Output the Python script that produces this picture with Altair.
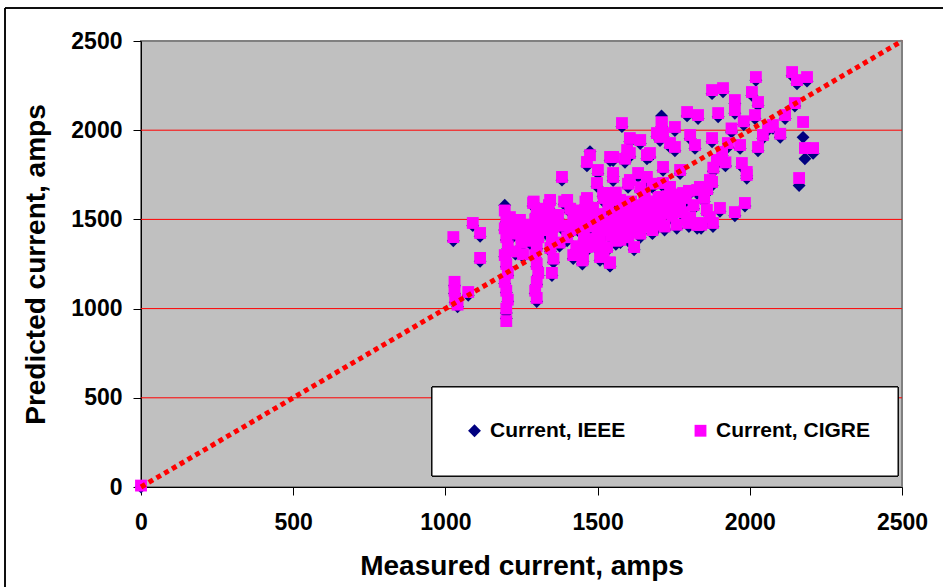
import altair as alt
import pandas as pd

# ---------------- data ----------------
measured = [
    0, 1026, 1030, 1030, 1032, 1040, 1075, 1090, 1114, 1114,
    1195, 1200, 1195, 1200, 1205, 1195, 1200, 1205, 1195, 1200,
    1205, 1200, 1200, 1220, 1240, 1250, 1230, 1260, 1212, 1245,
    1290, 1300, 1295, 1300, 1305, 1300, 1295, 1300, 1305, 1300,
    1295, 1300, 1288, 1340, 1350, 1355, 1350, 1345, 1355, 1350,
    1344, 1390, 1400, 1410, 1420, 1440, 1400, 1430, 1420, 1450,
    1460, 1383, 1480, 1500, 1520, 1540, 1560, 1490, 1510, 1465,
    1518, 1475, 1465, 1541, 1597, 1606, 1640, 1672, 1715, 1738,
    1551, 1606, 1662, 1715, 1498, 1465, 1531, 1606, 1662, 1715,
    1748, 1541, 1450, 1480, 1520, 1550, 1580, 1600, 1620, 1640,
    1660, 1680, 1700, 1720, 1580, 1620, 1560, 1500, 1650, 1700,
    1740, 1760, 1800, 1460, 1520, 1560, 1600, 1640, 1680, 1575,
    1600, 1640, 1680, 1720, 1760, 1800, 1840, 1620,
    2020, 2139, 2188, 2155, 1876, 1912, 2007, 2027, 1951, 1794,
    1830, 1896, 1951, 1711, 2148, 2175, 2116, 2076, 2017, 2181,
    2208, 2162, 2043, 2060, 2027, 1974, 1990, 1984, 1951, 1902,
    1869, 1830, 1794, 1876, 1928, 1968, 1909, 1892, 1804, 1820,
    1754, 1754, 1705, 1869, 1836, 1738, 1781, 1738, 1695, 1580,
    1590, 1695, 1551, 1606, 1662, 1501, 1551, 1633, 1715, 1771,
    1990, 1876, 1465, 1531, 1574, 1705, 1771, 1827, 1485, 1551,
    1639, 1705, 1771, 1804, 1859, 1827, 1879, 1606, 1508, 1508,
    1452, 1710,
    1370, 1385, 1410, 1425, 1445, 1455, 1470, 1485, 1495, 1505,
    1525, 1535, 1545, 1555, 1565, 1585, 1595, 1610, 1615, 1630,
    1645, 1655, 1665, 1675, 1690, 1695, 1710, 1730, 1745, 1765,
    1780, 1790, 1815, 1850, 1860, 1880, 1920, 1940, 1980, 2100,
    1250, 1270, 1320, 1330, 1315, 1375, 1280, 1255, 1215,
]

ieee = [
    0, 1380, 1130, 1085, 1035, 1010, 1075, 1465, 1405, 1265,
    1580, 1485, 1440, 1385, 1335, 1290, 1235, 1185, 1140, 1090,
    1040, 975, 945, 1400, 1440, 1385, 1305, 1450, 1495, 1480,
    1590, 1535, 1485, 1435, 1385, 1335, 1285, 1235, 1185, 1135,
    1085, 1040, 1575, 1560, 1500, 1440, 1380, 1320, 1260, 1185,
    1590, 1585, 1590, 1540, 1480, 1430, 1380, 1330, 1280, 1250,
    1520, 1720, 1370, 1330, 1280, 1240, 1360, 1460, 1510, 1600,
    1630, 1880, 1800, 1830, 1870, 1935, 1925, 1850, 1965, 1905,
    1740, 1700, 1718, 1685, 1685, 1325, 1325, 1435, 1495, 1535,
    1590, 1238, 1430, 1480, 1460, 1500, 1530, 1540, 1500, 1560,
    1580, 1540, 1600, 1560, 1460, 1440, 1420, 1400, 1480, 1500,
    1540, 1620, 1640, 1580, 1600, 1630, 1680, 1660, 1680, 1370,
    1380, 1400, 1420, 1440, 1450, 1460, 1450, 1330,
    2280, 2305, 2275, 2260, 2205, 2215, 2195, 2138, 2150, 2080,
    2065, 2075, 2095, 2020, 2135, 1960, 2065, 2010, 2065, 1840,
    1870, 1690, 1955, 2000, 1885, 1795, 1745, 1575, 1520, 1545,
    1490, 1460, 1478, 1935, 1905, 1898, 1858, 1812, 1952, 1898,
    1998, 1885, 1942, 1700, 1662, 1662, 1628, 1516, 1492, 2020,
    1820, 1965, 1830, 1852, 1840, 1757, 1718, 1740, 1775, 1757,
    1730, 1690, 1590, 1628, 1590, 1606, 1590, 1645, 1495, 1460,
    1460, 1488, 1545, 1495, 1535, 1450, 1460, 1410, 1380, 1270,
    1265, 2080,
    1505, 1445, 1420, 1530, 1490, 1385, 1440, 1545, 1350, 1470,
    1420, 1550, 1390, 1590, 1470, 1420, 1500, 1580, 1470, 1530,
    1440, 1620, 1530, 1470, 1580, 1450, 1540, 1610, 1500, 1560,
    1520, 1600, 1560, 1600, 1650, 1770, 1800, 1990, 2030, 1960,
    1350, 1420, 1480, 1420, 1540, 1350, 1360, 1290, 1460,
]

cigre = [
    8, 1401, 1150, 1100, 1050, 1022, 1093, 1480, 1424, 1284,
    1550, 1500, 1450, 1400, 1350, 1300, 1250, 1200, 1150, 1100,
    1050, 1000, 930, 1420, 1460, 1400, 1320, 1470, 1513, 1497,
    1600, 1550, 1500, 1450, 1400, 1350, 1300, 1250, 1200, 1150,
    1100, 1060, 1592, 1580, 1520, 1460, 1400, 1340, 1280, 1200,
    1609, 1600, 1609, 1560, 1500, 1450, 1400, 1350, 1300, 1270,
    1540, 1738, 1390, 1350, 1300, 1260, 1380, 1480, 1530, 1620,
    1648, 1860, 1822, 1850, 1889, 1956, 1945, 1872, 1984, 1928,
    1760, 1721, 1738, 1704, 1704, 1345, 1345, 1457, 1513, 1553,
    1609, 1256, 1450, 1500, 1480, 1520, 1550, 1560, 1520, 1580,
    1600, 1560, 1620, 1580, 1480, 1460, 1440, 1420, 1500, 1520,
    1560, 1640, 1660, 1600, 1620, 1650, 1700, 1680, 1700, 1385,
    1400, 1420, 1440, 1460, 1470, 1480, 1470, 1345,
    2298, 2326, 2298, 2281, 2225, 2236, 2214, 2158, 2169, 2102,
    2085, 2096, 2113, 2040, 2152, 2046, 2085, 2029, 2085, 1900,
    1900, 1732, 1973, 2018, 1906, 1816, 1766, 1592, 1541, 1564,
    1513, 1480, 1497, 1956, 1928, 1917, 1878, 1833, 1973, 1917,
    2018, 1906, 1962, 1721, 1682, 1682, 1648, 1536, 1513, 2040,
    1840, 1984, 1850, 1872, 1861, 1777, 1738, 1760, 1794, 1777,
    1749, 1710, 1609, 1648, 1609, 1626, 1609, 1665, 1513, 1480,
    1480, 1508, 1564, 1513, 1553, 1469, 1480, 1429, 1401, 1289,
    1284, 2045,
    1525, 1465, 1440, 1550, 1510, 1405, 1460, 1565, 1370, 1490,
    1440, 1570, 1410, 1610, 1490, 1440, 1520, 1600, 1490, 1550,
    1460, 1640, 1550, 1490, 1600, 1470, 1560, 1630, 1520, 1580,
    1540, 1620, 1580, 1620, 1670, 1790, 1820, 2010, 2050, 1980,
    1370, 1440, 1500, 1440, 1560, 1370, 1380, 1305, 1475,
]

series_names = ["Current, IEEE", "Current, CIGRE"]
series_colors = ["#000080", "#FF00FF"]
series_shapes = ["diamond", "square"]
series_sizes = [165, 140]
axis_ticks = [0, 500, 1000, 1500, 2000, 2500]
grid_values = [500, 1000, 1500, 2000]
line_ends = [0, 2500]

n = len(measured)
points = pd.DataFrame({
    "measured": measured + measured,
    "predicted": ieee + cigre,
    "series": [series_names[0]] * n + [series_names[1]] * n,
    "order_idx": [0] * n + [1] * n,
})
grid_df = pd.DataFrame({"g": grid_values})
line_df = pd.DataFrame({"m": line_ends, "p": line_ends})

FONT = "Liberation Sans"
x_scale = alt.Scale(domain=[0, 2500], nice=False, zero=False)
y_scale = alt.Scale(domain=[0, 2500], nice=False, zero=False)

x_axis = alt.Axis(
    values=axis_ticks, format="d", grid=False, tickSize=8, tickColor="#000000",
    domainColor="#000000", labelFont=FONT, labelFontSize=23,
    labelFontWeight="bold", labelColor="#000000", labelPadding=16,
    labelFlush=False, labelOverlap=False,
    title="Measured current, amps", titleFont=FONT, titleFontSize=28,
    titleFontWeight="bold", titleColor="#000000", titlePadding=18,
)
y_axis = alt.Axis(
    values=axis_ticks, format="d", grid=False, tickSize=8, tickColor="#000000",
    domainColor="#000000", labelFont=FONT, labelFontSize=23,
    labelFontWeight="bold", labelColor="#000000", labelPadding=11,
    labelFlush=False, labelOverlap=False,
    title="Predicted current, amps", titleFont=FONT, titleFontSize=28,
    titleFontWeight="bold", titleColor="#000000", titlePadding=20,
)

grid = alt.Chart(grid_df).mark_rule(color="#FF0000", strokeWidth=1).encode(
    y=alt.Y("g:Q", scale=y_scale, axis=y_axis)
)

legend_box = alt.Chart(grid_df).mark_rect(
    fill="#FFFFFF", stroke="#000000", strokeWidth=1
).encode(
    x=alt.value(291), x2=alt.value(757), y=alt.value(346), y2=alt.value(435)
)

scatter = alt.Chart(points).mark_point(filled=True, opacity=1, strokeWidth=0).encode(
    x=alt.X("measured:Q", scale=x_scale, axis=x_axis),
    y=alt.Y("predicted:Q", scale=y_scale, axis=y_axis),
    color=alt.Color(
        "series:N",
        scale=alt.Scale(domain=series_names, range=series_colors),
        legend=alt.Legend(
            title=None, orient="none", legendX=323, legendY=379,
            direction="horizontal", columns=2, columnPadding=64,
            labelFont=FONT, labelFontSize=21, labelFontWeight="bold",
            labelColor="#000000", labelOffset=5, symbolSize=130,
            symbolStrokeWidth=0, labelLimit=400,
        ),
    ),
    shape=alt.Shape(
        "series:N", scale=alt.Scale(domain=series_names, range=series_shapes)
    ),
    size=alt.Size(
        "series:N", scale=alt.Scale(domain=series_names, range=series_sizes),
        legend=None,
    ),
    order=alt.Order("order_idx:Q"),
)

diag = alt.Chart(line_df).mark_line(
    color="#FF0000", strokeWidth=5, strokeDash=[5, 4], strokeCap="butt"
).encode(
    x=alt.X("m:Q", scale=x_scale),
    y=alt.Y("p:Q", scale=y_scale),
)

border_left = alt.Chart(grid_df).mark_rule(color="#000000", strokeWidth=1).encode(
    x=alt.value(-136), y=alt.value(-33), y2=alt.value(560)
)
border_top = alt.Chart(grid_df).mark_rule(color="#000000", strokeWidth=1).encode(
    x=alt.value(-136), x2=alt.value(810), y=alt.value(-33)
)

chart = alt.layer(
    grid, legend_box, scatter, diag, border_left, border_top
).properties(
    width=761, height=446,
    padding={"left": 141, "top": 41, "right": 41, "bottom": 100},
    autosize="none",
    background="#FFFFFF",
).configure_view(
    fill="#C0C0C0", stroke="#808080", strokeWidth=2
)

chart.save("out.html", embed_options={"renderer": "svg", "actions": False})
